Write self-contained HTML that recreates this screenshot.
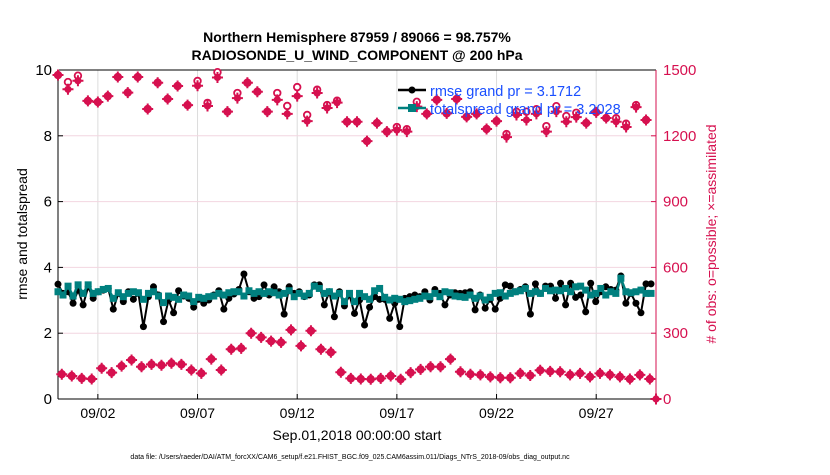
<!DOCTYPE html>
<html><head><meta charset="utf-8"><style>
body{margin:0;background:#fff;font-family:"Liberation Sans",Arial,sans-serif}
svg text{font-family:"Liberation Sans",Arial,sans-serif}
</style></head><body>
<svg id="chart" width="830" height="470" viewBox="0 0 830 470" xmlns="http://www.w3.org/2000/svg">
<text x="357" y="42" text-anchor="middle" font-size="14" font-weight="bold">Northern Hemisphere 87959 / 89066 = 98.757%</text>
<text x="357" y="60" text-anchor="middle" font-size="14" font-weight="bold">RADIOSONDE_U_WIND_COMPONENT @ 200 hPa</text>
<g id="grid"></g>
<g id="axes"></g>
<g id="marks"></g>
<text transform="translate(27,234) rotate(-90)" text-anchor="middle" font-size="14">rmse and totalspread</text>
<text transform="translate(716,234) rotate(-90)" text-anchor="middle" font-size="14" fill="#d6104f"># of obs: o=possible; ×=assimilated</text>
<text x="357" y="440" text-anchor="middle" font-size="14">Sep.01,2018 00:00:00 start</text>
<text x="350" y="459" text-anchor="middle" font-size="7">data file: /Users/raeder/DAI/ATM_forcXX/CAM6_setup/f.e21.FHIST_BGC.f09_025.CAM6assim.011/Diags_NTrS_2018-09/obs_diag_output.nc</text>
<g>
<line x1="398" y1="90" x2="426" y2="90" stroke="#000" stroke-width="2.5"/>
<circle cx="412" cy="90" r="3.5" fill="#000"/>
<text x="430" y="96" font-size="14.5" fill="#1a4fff">rmse grand pr = 3.1712</text>
<line x1="398" y1="108" x2="426" y2="108" stroke="#00807f" stroke-width="2.5"/>
<rect x="408" y="104" width="8" height="8" fill="#00807f"/>
<text x="430" y="114" font-size="14.5" fill="#1a4fff">totalspread grand pr = 3.2028</text>
</g>
</svg>
<script>
const dayTicks=[2,7,12,17,22,27];
const dayTickLabels=["09/02","09/07","09/12","09/17","09/22","09/27"];
const leftTicks=[0,2,4,6,8,10];
const rightTicks=[0,300,600,900,1200,1500];
const rmse=[3.49,3.21,3.26,2.91,3.31,2.86,3.41,3.06,3.26,3.31,3.36,2.73,3.21,2.96,3.26,3.03,3.21,2.20,3.11,3.41,3.16,2.35,3.01,2.62,3.29,3.13,3.06,2.79,3.03,2.91,3.01,3.16,3.29,2.73,3.06,3.19,3.33,3.80,3.26,3.06,3.11,3.47,3.16,3.41,3.26,2.58,3.41,3.21,3.26,3.11,3.16,3.47,3.47,2.86,3.26,2.50,3.26,2.83,3.16,2.60,3.01,2.25,
2.79,3.11,3.03,3.03,2.45,2.91,2.20,3.06,3.11,3.16,3.11,3.26,3.01,3.33,3.21,2.86,3.16,3.23,3.21,3.23,3.26,2.71,3.16,2.76,3.03,2.73,3.06,3.47,3.43,3.26,3.33,3.41,2.58,3.50,3.21,3.43,3.43,3.06,3.52,2.86,3.52,3.09,3.16,2.65,3.52,2.96,3.26,3.41,3.33,3.31,3.74,2.91,3.21,2.91,2.62,3.50,3.50];
const spread=[3.26,3.16,3.43,3.13,3.47,3.21,3.47,3.21,3.26,3.33,3.36,3.06,3.23,3.11,3.21,3.26,3.23,3.03,3.21,3.26,3.13,2.93,3.13,3.09,3.03,3.16,3.13,2.96,3.09,3.06,3.11,3.13,3.21,3.16,3.23,3.26,3.26,3.13,3.29,3.21,3.26,3.21,3.26,3.23,3.16,3.21,3.29,3.11,3.21,3.13,3.21,3.43,3.36,3.21,3.26,3.13,3.21,2.96,3.21,2.96,3.21,3.11,
3.03,3.29,3.36,3.09,3.01,3.06,3.03,2.96,2.99,3.03,3.06,3.13,3.11,3.21,3.11,3.26,3.23,3.13,3.11,3.09,3.16,3.06,3.13,3.01,3.09,3.21,3.23,3.13,3.21,3.26,3.29,3.36,3.21,3.26,3.21,3.36,3.29,3.31,3.29,3.36,3.26,3.41,3.43,3.31,3.16,3.21,3.36,3.16,3.26,3.21,3.67,3.26,3.23,3.26,3.31,3.21,3.21];
const topAssim=[1477,1412,1451,1359,1354,1381,1468,1397,1468,1322,1442,1368,1427,1340,1428,1336,1466,1310,1372,1442,1401,1310,1364,1300,1381,1267,1395,1327,1351,1264,1264,1176,1258,1219,1226,1219,1333,1300,1364,1302,1368,1286,1300,1231,1267,1194,1295,1272,1300,1219,1310,1264,1285,1258,1307,1281,1264,1240,1331,1272];
const topPossible=[1477,1445,1474,1359,1354,1381,1468,1397,1468,1322,1442,1368,1427,1340,1450,1350,1490,1310,1395,1442,1401,1310,1395,1336,1422,1295,1410,1340,1360,1264,1264,1176,1258,1219,1240,1230,1355,1300,1364,1302,1368,1286,1300,1231,1267,1208,1310,1310,1321,1244,1335,1290,1305,1258,1307,1281,1280,1255,1340,1272];
const botAssim=[113,105,94,91,140,120,150,178,147,158,154,163,158,132,117,182,132,227,231,300,281,264,258,315,242,311,227,213,122,94,91,90,94,105,90,120,135,147,147,182,124,113,110,101,97,97,117,107,131,126,124,110,117,101,117,110,101,91,110,91];
const botPossible=botAssim.slice();

const NS='http://www.w3.org/2000/svg';
const X0=58,X1=656,Y0=399,Y1=70;
const xs=d=>X0+(d/30)*(X1-X0);
const yl=v=>Y0-(v/10)*(Y0-Y1);
const yr=v=>Y0-(v/1500)*(Y0-Y1);
const MAG='#d6104f',TEAL='#00807f';
function mk(tag,attrs,parent){const e=document.createElementNS(NS,tag);for(const k in attrs)e.setAttribute(k,attrs[k]);parent.appendChild(e);return e;}
const grid=document.getElementById('grid'),axes=document.getElementById('axes'),marks=document.getElementById('marks');

dayTicks.forEach((d,i)=>{
 const g=mk('line',{x1:xs(d),x2:xs(d),y1:Y1,y2:Y0,stroke:'#dcdcdc','stroke-width':1},grid);
 
 
 const t=mk('line',{x1:xs(d),x2:xs(d),y1:Y0,y2:Y0-5,stroke:'#000'},axes);
 
 
 const l=mk('text',{x:xs(d),y:Y0+19,'text-anchor':'middle','font-size':14},axes);
 l.textContent=dayTickLabels[i];
 
 
});
rightTicks.forEach(v=>{
 if(v>0&&v<1500){const g=mk('line',{x1:X0,x2:X1,y1:yr(v),y2:yr(v),stroke:'#f2d6e0','stroke-width':1},grid);
 
 }
 const t=mk('line',{x1:X1-5,x2:X1,y1:yr(v),y2:yr(v),stroke:MAG},axes);
 
 
 const l=mk('text',{x:663,y:yr(v)+5,'font-size':15,fill:MAG},axes);
 l.textContent=v;
 
 
});
leftTicks.forEach(v=>{
 const t=mk('line',{x1:X0,x2:X0+5,y1:yl(v),y2:yl(v),stroke:'#000'},axes);
 
 
 const l=mk('text',{x:X0-6,y:yl(v)+5,'font-size':15,'text-anchor':'end'},axes);
 l.textContent=v;
 
 
});
const la=mk('line',{x1:X0,x2:X0,y1:Y1,y2:Y0,stroke:'#000'},axes);


const ba=mk('line',{x1:X0,x2:X1,y1:Y0,y2:Y0,stroke:'#000'},axes);


const ta=mk('line',{x1:X0,x2:X1,y1:Y1,y2:Y1,stroke:'#000'},axes);


const ra=mk('line',{x1:X1,x2:X1,y1:Y1,y2:Y0,stroke:MAG},axes);



function star(x,y,parent,name){
 const g=mk('g',{fill:MAG,stroke:MAG},parent);
 
 
 mk('circle',{cx:x,cy:y,r:3.6,stroke:'none'},g);
 mk('path',{d:`M${x-5.5} ${y}H${x+5.5}M${x} ${y-5.5}V${y+5.5}`,'stroke-width':2},g);
}
function ring(x,y,parent,name){
 const c=mk('circle',{cx:x,cy:y,r:3.3,fill:'#fff',stroke:MAG,'stroke-width':1.8},parent);
 
 
}
const nObs=topAssim.length;
const topTime=i=>i*0.5;
const botTime=i=>0.19+i*0.5;
for(let i=0;i<nObs;i++){
 ring(xs(topTime(i)),yr(topPossible[i]),marks,'obs-possible-upper');
 star(xs(topTime(i)),yr(topAssim[i]),marks,'obs-assimilated-upper');
 ring(xs(botTime(i)),yr(botPossible[i]),marks,'obs-possible-lower');
 star(xs(botTime(i)),yr(botAssim[i]),marks,'obs-assimilated-lower');
}
star(xs(30),yr(0),marks,'obs-assimilated-final');

const nT=rmse.length;
const tt=i=>i*29.75/(nT-1);
const rp=rmse.map((v,i)=>xs(tt(i))+','+yl(v)).join(' ');
const rl=mk('polyline',{points:rp,fill:'none',stroke:'#000','stroke-width':2},marks);


rmse.forEach((v,i)=>{
 const c=mk('circle',{cx:xs(tt(i)),cy:yl(v),r:3.5,fill:'#000'},marks);
 
 
});
const sp=spread.map((v,i)=>xs(tt(i))+','+yl(v)).join(' ');
const sl=mk('polyline',{points:sp,fill:'none',stroke:TEAL,'stroke-width':2.5},marks);


spread.forEach((v,i)=>{
 const r=mk('rect',{x:xs(tt(i))-3.5,y:yl(v)-3.5,width:7,height:7,fill:TEAL},marks);
 
 
});
</script>
</body></html>
